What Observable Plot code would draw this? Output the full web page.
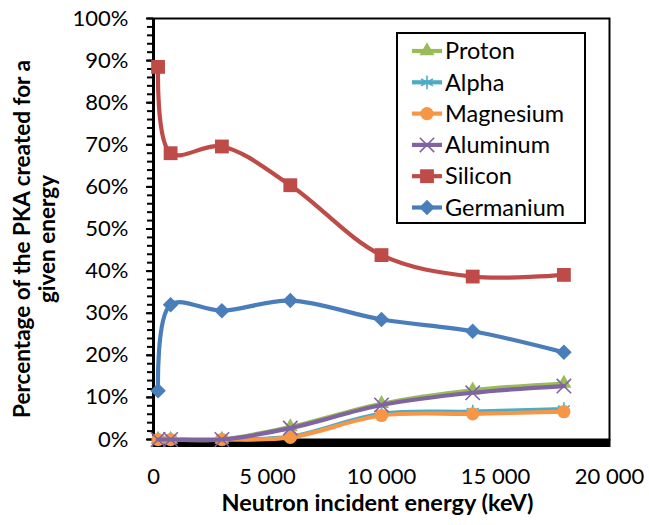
<!DOCTYPE html>
<html>
<head>
<meta charset="utf-8">
<script src="https://cdn.jsdelivr.net/npm/d3@7"></script>
<script src="https://cdn.jsdelivr.net/npm/@observablehq/plot@0.6"></script>
<style>
  html, body { margin: 0; padding: 0; background: white; }
  #chart { position: relative; width: 649px; height: 525px; }
</style>
</head>
<body>
<div id="chart"></div>
<script>
// ---- Data ----
const energies  = [200, 750, 3000, 6000, 10000, 14000, 18000];           // keV
const proton    = [0, 0, 0, 3.0, 8.5, 11.7, 13.3];                       // %
const alpha     = [0, 0, 0, 0.7, 6.1, 6.6, 7.2];
const magnesium = [0, 0, 0, 0.5, 5.7, 6.1, 6.6];
const aluminum  = [0, 0, 0, 2.7, 8.2, 11.1, 12.7];
const silicon   = [88.5, 68.0, 69.6, 60.4, 43.8, 38.7, 39.1];
const germanium = [11.6, 32.0, 30.6, 33.0, 28.5, 25.7, 20.7];

const seriesNames = ["Proton", "Alpha", "Magnesium", "Aluminum", "Silicon", "Germanium"];
const seriesValues = [proton, alpha, magnesium, aluminum, silicon, germanium];
const xTicks = [0, 5000, 10000, 15000, 20000];
const yTicks = [0, 10, 20, 30, 40, 50, 60, 70, 80, 90, 100];
const yMinorTicks = d3.range(0, 101, 2);

// ---- Styles ----
const styles = {
  Proton:    {color: "#9BBB59", symbol: d3.symbolTriangle, r: 5.6, filled: true},
  Alpha:     {color: "#4BACC6", symbol: d3.symbolAsterisk, r: 6.5, filled: false},
  Magnesium: {color: "#F79646", symbol: d3.symbolCircle,   r: 6.6, filled: true},
  Aluminum:  {color: "#8064A2", symbol: d3.symbolTimes,    r: 6.6, filled: false},
  Silicon:   {color: "#BE4B48", symbol: d3.symbolSquare,   r: 7.8, filled: true},
  Germanium: {color: "#4A7EBB", symbol: d3.symbolDiamond2, r: 7.0, filled: true}
};

const rows = seriesNames.flatMap((name, i) =>
  energies.map((e, j) => ({series: name, energy: e, pct: seriesValues[i][j]})));

const fmtX = d => d3.format(",")(d).replace(/,/g, " ");

const seriesMarks = seriesNames.flatMap(name => {
  const s = styles[name];
  const data = rows.filter(d => d.series === name);
  return [
    Plot.line(data, {x: "energy", y: "pct", stroke: s.color, strokeWidth: 4.2, curve: "catmull-rom"}),
    Plot.dot(data, s.filled
      ? {x: "energy", y: "pct", symbol: () => s.symbol, r: s.r, fill: s.color, stroke: "none"}
      : {x: "energy", y: "pct", symbol: () => s.symbol, r: s.r, fill: "none", stroke: s.color, strokeWidth: 1.6})
  ];
});

const svg = Plot.plot({
  width: 649,
  height: 525,
  marginLeft: 153,
  marginRight: 40,
  marginTop: 18,
  marginBottom: 86,
  style: {fontFamily: "Lato, 'Open Sans', sans-serif", fontSize: "22px", color: "black", background: "white"},
  x: {domain: [0, 20000]},
  y: {domain: [0, 100]},
  marks: [
    Plot.axisY(yMinorTicks, {tickSize: 6, tickFormat: () => "", strokeWidth: 2, label: null}),
    Plot.axisY(yTicks, {tickSize: 7, tickPadding: 18, tickFormat: d => d + "%", strokeWidth: 2, fontSize: 22, label: null}),
    Plot.axisX(xTicks, {tickSize: 8, tickPadding: 21, tickFormat: fmtX, strokeWidth: 2, fontSize: 22, label: null}),
    Plot.frame({stroke: "black", strokeWidth: 2}),
    Plot.ruleX([0], {stroke: "black", strokeWidth: 3}),
    Plot.ruleY([0], {stroke: "black", strokeWidth: 8, dy: 3.5}),
    ...seriesMarks,
    Plot.text(["Percentage of the PKA created for a\ngiven energy"], {
      frameAnchor: "left", textAnchor: "middle", rotate: -90, dx: -119, dy: 10,
      fontWeight: "bold", fontSize: 22.5, lineHeight: 1.12, fill: "black"
    }),
    Plot.text(["Neutron incident energy (keV)"], {
      frameAnchor: "bottom", textAnchor: "middle", dx: -4, dy: 71,
      fontWeight: "bold", fontSize: 23.5, fill: "black"
    })
  ]
});

// ---- Legend (inside plot area, top right) ----
const g = d3.select(svg).append("g").attr("class", "legend").attr("text-anchor", "start");
g.append("rect").attr("x", 397).attr("y", 33).attr("width", 188).attr("height", 190)
  .attr("fill", "white").attr("stroke", "black").attr("stroke-width", 2);
seriesNames.forEach((name, i) => {
  const s = styles[name];
  const cy = 51 + i * 31.3;
  g.append("line").attr("x1", 412).attr("x2", 442).attr("y1", cy).attr("y2", cy)
    .attr("stroke", s.color).attr("stroke-width", 4.2);
  const p = g.append("path")
    .attr("d", d3.symbol().type(s.symbol).size(Math.PI * s.r * s.r)())
    .attr("transform", `translate(427,${cy})`);
  if (s.filled) p.attr("fill", s.color);
  else p.attr("fill", "none").attr("stroke", s.color).attr("stroke-width", 1.6);
  g.append("text").attr("x", 445).attr("y", cy).attr("dy", "0.35em")
    .attr("text-anchor", "start")
    .attr("font-size", 23.5).attr("fill", "black").text(name);
});

document.getElementById("chart").appendChild(svg);
</script>
</body>
</html>
